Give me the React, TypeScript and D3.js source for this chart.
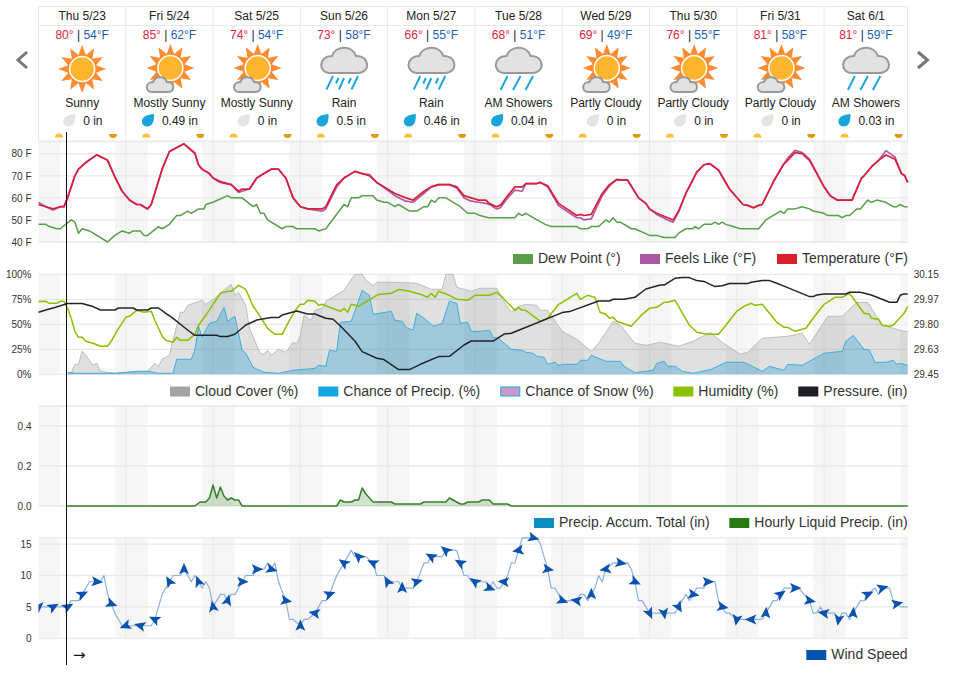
import React, { useEffect, useRef } from "react";
import * as d3 from "d3";

type Knot = [number, number];

// forecast cards
const dayLabels = ["Thu 5/23", "Fri 5/24", "Sat 5/25", "Sun 5/26", "Mon 5/27", "Tue 5/28", "Wed 5/29", "Thu 5/30", "Fri 5/31", "Sat 6/1"];
const highs = ["80°", "85°", "74°", "73°", "66°", "68°", "69°", "76°", "81°", "81°"];
const lows = ["54°F", "62°F", "54°F", "58°F", "55°F", "51°F", "49°F", "55°F", "58°F", "59°F"];
const conditions = ["Sunny", "Mostly Sunny", "Mostly Sunny", "Rain", "Rain", "AM Showers", "Partly Cloudy", "Partly Cloudy", "Partly Cloudy", "AM Showers"];
const icons = ["sun", "partly", "partly", "rain", "rain", "showers", "partly", "partly", "partly", "showers"];
const precipAmounts = ["0 in", "0.49 in", "0 in", "0.5 in", "0.46 in", "0.04 in", "0 in", "0 in", "0 in", "0.03 in"];

// hours since midnight Thu 5/23
const dayStarts = [0, 24, 48, 72, 96, 120, 144, 168, 192, 216];
const nightBands: Knot[] = [[0, 6], [21, 30], [45, 54], [69, 78], [93, 102], [117, 126], [141, 150], [165, 174], [189, 198], [213, 222], [237, 239]];
const lastHour = 239;

const tempHours = [0, 2, 4, 6, 7, 8, 10, 11, 13, 16, 19, 21, 23, 25, 27, 28, 30, 31, 34, 36, 40, 43, 44, 45, 47, 48, 50, 53, 55, 56, 58, 60, 62, 64, 66, 68, 70, 72, 74, 78, 79, 82, 84, 87, 89, 91, 93, 98, 101, 103, 106, 108, 110, 113, 115, 117, 119, 121, 123, 124, 126, 127, 129, 131, 133, 134, 137, 138, 140, 143, 148, 149, 150, 152, 155, 157, 159, 162, 165, 167, 168, 170, 173, 174.5, 176, 178, 181, 183, 184.6, 187, 190, 193.7, 195, 196.6, 198, 199, 202.3, 204.8, 206, 208, 210, 212, 216, 217.7, 219.6, 223.7, 226.3, 227, 229, 231, 233, 235.5, 237.3, 238.2, 239];
const temperature = [57, 56, 55, 56, 56, 60, 70, 73, 76, 79.5, 77, 69.5, 63, 59, 57, 57, 55, 57, 73, 81, 84.5, 80, 75, 73, 71, 69, 67, 66, 63, 64, 64, 69, 71, 73, 73, 69, 60, 56, 55, 55, 56, 66, 69, 72, 71, 70, 67, 62, 60, 59, 63, 65, 66, 66, 65, 61, 60, 59, 59, 57.4, 56, 56.7, 61, 65, 65, 66.5, 66.5, 67, 65.5, 57.5, 52, 52.5, 52, 52.5, 62, 66, 68.3, 68, 60, 57.5, 55, 53, 51, 50, 54, 62, 71.7, 75, 75.5, 72.5, 64, 57, 56.6, 55.5, 56.6, 57, 68, 75, 77, 80.5, 80, 77, 65, 61, 59, 59, 69, 70, 74, 77, 79.4, 77.5, 71, 70, 67];
const feelsLike = [58, 56, 54.5, 56, 56, 60, 70, 73, 76, 79.5, 77, 69.5, 63, 59, 57, 57, 55, 57, 73, 81, 84.5, 80.5, 75, 73, 71, 69, 67.5, 66, 62.5, 63, 64, 69, 71, 73, 73, 69, 60, 56, 55, 54, 55, 65, 69, 72, 71, 70.5, 67, 61, 58.5, 58, 62, 65, 66, 66, 64.5, 60, 58.5, 58, 57.5, 57, 55, 55.5, 60, 63.5, 63, 66.5, 66.5, 67, 65, 56.5, 51, 51, 50, 50.5, 61, 65.5, 68.3, 68, 60, 57.5, 55, 52.5, 50, 49, 53.5, 62, 71.7, 75, 75.5, 72.5, 64, 57, 56.6, 55.5, 56.6, 57, 68, 75, 78, 81.5, 80.5, 77.5, 65, 61, 59, 59, 69, 70, 74, 77, 81.4, 78.5, 71, 70, 67];
const dewPoint: Knot[] = [[0, 48], [2, 48], [3, 47], [5, 46], [6, 46], [9, 50], [10, 49], [11, 44], [12, 46], [14, 45], [19, 40], [21, 43], [23, 45], [25, 44], [26, 45], [28, 45], [29, 43], [30, 43], [33, 47], [34, 46], [36, 48], [38, 52], [39, 52], [41, 54], [42, 53], [44, 55], [45.5, 55], [46, 57], [48, 58], [52, 61], [53, 60], [56, 60], [59, 56], [60, 57], [61, 53], [62, 53], [63, 50], [67, 46], [68, 47], [70, 47], [71, 46], [76, 46], [77, 45], [79, 46], [84, 57], [85, 56], [86, 60], [88, 60], [89, 61], [92, 61], [93, 59], [95, 58], [96, 58], [98, 56], [99, 57], [102, 54], [104, 54], [106, 56], [107, 56], [108, 59], [109, 58], [110, 60], [112, 60], [116, 56], [118, 53], [120, 53], [121.4, 52], [123.7, 51], [131, 51], [132, 53], [133, 52], [134, 53], [139.3, 48], [141, 47], [148, 47], [149, 46], [151, 46], [152, 47], [154, 47], [156, 50], [157, 49], [158, 51], [159, 49], [160, 49], [163, 46], [164, 46], [168, 43], [170, 43], [172, 42], [175, 42], [176, 44], [178, 46], [180, 46], [180.5, 47], [181.5, 46], [183, 48], [185, 48], [186, 49], [187, 48], [188, 49], [189, 48], [191, 47], [193, 46], [198, 46], [200, 50], [203, 53], [204, 54], [205, 53], [206, 55], [208, 55], [210, 56], [212, 55], [213, 54], [216, 53], [217, 52], [220, 52], [221, 51], [222, 52], [223, 52], [225, 55], [226, 55], [228, 59], [229, 58], [230.5, 59], [233, 58], [235, 56], [236, 56], [237, 57], [238, 56], [239, 56]];

const cloudCover: Knot[] = [[8, 0], [9, 1], [10, 10], [11, 10], [12, 23], [13, 19], [15, 9], [16, 11], [17, 3], [19, 2], [21, 1], [30, 3], [32, 11], [33, 8], [34, 15], [36, 19], [37, 34], [39, 62], [40, 62], [41, 69], [43.5, 72], [45, 74], [46, 70], [48.5, 76], [50, 81], [53, 90], [54, 79], [55, 82], [57, 69], [58, 46], [60, 29], [61, 21], [62, 20], [63, 24], [64, 19], [66, 25], [68, 22], [70, 32], [71, 30], [72, 39], [73, 59], [75, 54], [76, 64], [78, 66], [79, 73], [84, 84], [87, 100], [89, 100], [90, 94], [92, 89], [93, 92], [98, 92], [104, 91], [108, 85], [111, 85], [112, 100], [114, 100], [115, 87], [119, 83], [121.4, 86], [126, 86], [127.4, 76], [130, 62], [132, 68], [134, 70], [137, 69], [138, 64], [140, 64], [144, 43], [148, 35], [152, 23], [154, 31], [158, 53], [160, 49], [164, 31], [167, 29], [171, 32], [176, 28], [180, 33], [184.7, 42], [188, 32], [193, 20], [195, 22], [199, 36], [206, 38], [210, 41], [212, 30], [217, 58], [221, 58], [225, 72], [228, 72], [232, 49], [235, 46], [238, 43], [239, 43]];
const precipChance: Knot[] = [[8, 2], [10, 1], [21, 1], [24, 2], [27, 3], [30, 3], [33, 1], [37, 1], [38, 15], [42, 15], [43, 24], [44, 48], [45, 37], [47, 51], [49, 53], [51, 67], [52, 53], [54, 58], [56, 24], [57, 21], [59, 7], [62, 2], [66, 1], [70, 4], [76, 6], [77, 9], [79, 8], [80, 24], [82, 23], [83, 52], [86, 53], [89, 84], [91, 79], [92, 60], [97, 63], [98, 54], [100, 53], [101, 47], [103, 44], [104, 61], [106, 56], [108.6, 48], [111, 51], [113, 73], [115, 71], [116, 51], [118, 52], [119, 43], [121.4, 43], [124, 44], [125, 37], [126.5, 36], [130, 25], [133, 24], [134, 22], [136, 21], [137, 18], [139, 17], [140, 10], [142, 12], [143, 9], [144.4, 10], [148, 10], [149, 14], [151, 14], [152, 19], [156, 13], [160, 13], [161, 8], [164, 1.5], [167, 3], [169, 4], [170, 11], [172, 13], [173, 8], [175, 8], [177, 3], [180, 1], [185, 5], [189, 12], [194, 12], [199, 3], [201, 8], [205, 4], [206, 10], [210, 9], [216, 21], [221, 23], [222, 33], [224, 39], [227, 25], [228.5, 24], [230, 12], [233, 12], [235, 14], [236, 10], [237, 11], [239, 9]];
const humidity: Knot[] = [[0, 72.7], [2, 73], [3, 71], [5, 71], [6, 73], [7, 73], [8, 66], [9, 56], [10, 43], [11, 37], [12, 37], [13, 33], [15, 31], [17, 28], [19, 28], [20, 33], [21.5, 43], [24, 57], [25, 58], [27, 64], [29, 62], [31, 63], [32, 54], [34, 38], [35, 34], [37, 32], [38, 37], [39, 34], [41, 34], [43, 40], [44, 49], [46, 59], [48, 70], [50, 81], [52, 83], [53, 83], [55, 89], [57, 85], [59, 68], [60, 63], [63, 46], [65, 40], [67, 40], [69, 54], [71, 66], [72, 70], [73, 70], [74, 74], [76, 73], [77, 69], [78, 70], [80, 67], [83, 63], [84, 66], [85, 62], [86, 70], [88, 68], [93, 79], [94, 80], [97, 81], [99, 85], [102, 83], [105, 80], [107, 77], [108, 81], [109, 77], [110, 83], [113, 79], [115, 75], [118, 74], [120, 79], [121.4, 79], [124, 79], [126, 82], [127, 79], [131, 64], [132, 67], [133, 64], [134, 64], [138, 53], [140, 56], [143, 70], [144, 72], [148, 81], [149, 75], [151, 79], [153, 77], [154.4, 62], [156, 60], [157, 56], [158, 57], [159, 53], [163, 48], [166, 60], [168, 66], [170, 67], [172, 72], [173, 72], [175, 74], [176, 68], [179, 49], [181, 42], [184, 40], [187, 40], [189, 49], [192, 63], [194, 68], [196, 71], [197, 69], [199, 70], [203, 52], [205, 47], [206, 47], [208, 43], [211, 46], [213, 56], [216, 70], [219, 77], [221, 77], [223, 81], [225, 71], [227, 61], [228.5, 60], [229, 56], [231, 55], [232, 49], [234, 48], [235, 49], [238, 61], [239, 68]];
const pressure: Knot[] = [[0, 29.884], [2, 29.9], [4.5, 29.917], [8, 29.945], [12, 29.945], [15, 29.924], [17, 29.9], [21, 29.9], [22, 29.914], [26, 29.914], [27, 29.9], [30, 29.9], [31, 29.914], [33, 29.914], [35, 29.877], [37, 29.842], [41, 29.76], [43, 29.723], [49, 29.723], [50, 29.714], [52, 29.714], [54, 29.73], [57, 29.795], [60, 29.83], [64, 29.847], [66, 29.847], [67, 29.865], [71, 29.893], [74, 29.872], [76, 29.872], [79, 29.842], [81, 29.835], [83, 29.788], [87, 29.683], [89, 29.609], [93, 29.562], [95, 29.553], [99, 29.483], [102, 29.483], [105, 29.52], [110, 29.574], [113, 29.576], [117, 29.655], [119, 29.683], [125, 29.683], [128, 29.732], [130, 29.737], [144, 29.882], [146, 29.889], [154, 29.963], [157, 29.963], [158, 29.975], [161, 29.975], [164, 29.989], [167, 30.047], [171, 30.075], [172, 30.075], [175, 30.122], [177, 30.127], [179, 30.127], [181, 30.106], [183, 30.1], [186, 30.064], [188, 30.07], [190, 30.085], [195, 30.085], [196, 30.094], [199, 30.106], [201, 30.106], [203, 30.087], [206, 30.057], [212, 29.994], [213, 29.994], [214, 30.005], [216, 30.012], [222, 30.012], [223, 30.024], [226, 30.024], [229, 30.005], [234, 29.954], [236, 29.954], [237, 30.005], [238, 30.012], [239, 30.012]];
const pressureTicks = [29.45, 29.625, 29.8, 29.975, 30.15];
const pressureLabels = ["29.45", "29.63", "29.80", "29.97", "30.15"];

const hourlyPrecip: Knot[] = [[7.7, 0], [43, 0], [44.4, 0.02], [46, 0.02], [47, 0.04], [48, 0.105], [49, 0.04], [50, 0.095], [51, 0.05], [52, 0.03], [53, 0.04], [54, 0.03], [55, 0.03], [56, 0], [82, 0], [83, 0.03], [84, 0.02], [86, 0.02], [87, 0.03], [88, 0.03], [89, 0.09], [90, 0.06], [92, 0.02], [97, 0.02], [98, 0.01], [105, 0.01], [106, 0.02], [112, 0.02], [113, 0.04], [116, 0.01], [117, 0.01], [118, 0.02], [121, 0.02], [122, 0.03], [124, 0.03], [125, 0.01], [129, 0.01], [130, 0], [239, 0]];

const windSpeed: Knot[] = [[0, 5], [8, 5], [9, 6], [11, 6], [12, 7], [14, 9], [17, 9], [18, 10], [19, 7], [21, 4], [23, 2], [31, 2], [32, 3], [34, 7], [36, 9], [37, 10], [39, 10], [40, 11], [42, 9], [43, 10], [45, 8], [46, 9], [47, 8], [48, 5], [50, 7], [51, 7], [52, 6], [53, 7], [54, 7], [56, 9], [57, 10], [59, 10], [60, 11], [62, 11], [63, 12], [64, 11], [65, 12], [66, 9], [68, 6], [69, 3], [70, 3], [72, 2], [73, 3], [74, 3], [76, 4], [78, 6], [79, 6], [80, 7], [82, 10], [84, 12], [86, 14], [87, 13], [90, 13], [92, 12], [93, 10], [95, 10], [96, 9], [99, 9], [100, 8], [103, 8], [104, 9], [106, 12], [107, 12], [108, 13], [111, 13], [112, 14], [115, 14], [117, 10], [118, 10], [119, 9], [123, 9], [124, 8], [125, 9], [126, 8], [127, 8], [128, 9], [129, 10], [130, 12], [131, 12], [132, 14], [133, 16], [137, 16], [138, 15], [139, 13], [140, 11], [141, 8], [142, 8], [144, 6], [148, 6], [149, 7], [150, 7], [151, 6], [152, 7], [153, 8], [154, 10], [155, 9], [156, 11], [158, 12], [162, 12], [163, 11], [164, 9], [165, 6], [166, 6], [168, 4], [175, 4], [178, 7], [179, 6], [180, 7], [181, 8], [183, 8], [184, 9], [186, 9], [187, 6], [189, 4], [190, 4], [192, 3], [199, 3], [200, 4], [202, 6], [203, 6], [205, 8], [209, 8], [212, 6], [213, 4], [214, 4], [215, 5], [216, 4], [219, 4], [220, 3], [221, 4], [222, 4], [223, 3], [224, 4], [226, 6], [227, 6], [228, 7], [230, 8], [231, 7], [232, 8], [234, 8], [235, 6], [237, 5], [239, 5]];
// one barb every 4 hours, heading in degrees clockwise from east
const windBarbHours = [0, 4, 8, 12, 16, 20, 24, 28, 32, 36, 40, 44, 48, 52, 56, 60, 64, 68, 72, 76, 80, 84, 88, 92, 96, 100, 104, 108, 112, 116, 120, 124, 128, 132, 136, 140, 144, 148, 152, 156, 160, 164, 168, 172, 176, 180, 184, 188, 192, 196, 200, 204, 208, 212, 216, 220, 224, 228, 232, 236];
const windBarbHeadings = [90, -30, -30, -25, 5, 20, 160, 195, 205, 240, 270, 250, 260, 285, 0, 0, 15, 10, 270, 190, -20, 215, 225, 205, 240, 270, -15, 210, 220, 210, 215, 20, 185, 170, 15, 10, 20, 190, 270, 170, 10, 25, 65, 80, 60, 10, 0, 10, 100, 180, 275, -35, 0, 10, 190, 100, 275, -25, -15, 350];

const FONT = "'Liberation Sans', Arial, sans-serif";
const TEXT = "#333";
const GRID = "#e9e9e9";
const NIGHT = "#f6f6f6";

const WeatherChart = () => {
    const svgRef = useRef<SVGSVGElement>(null);

    useEffect(() => {
        const svg = d3.select(svgRef.current).attr("viewBox", "0 0 954 677");
        svg.selectAll("*").remove();
        svg.attr("font-family", FONT);

        const xScale = d3.scaleLinear().domain([0, lastHour]).range([38.5, 907.7]);
        const cellEdges = [...dayStarts.map((d) => xScale(d)), xScale(lastHour)];

        const cloudPath = "M-14,12 C-26,12 -26,-5 -12,-5 C-9,-15 8,-17 12,-5 C26,-6 27,12 14,12 Z";
        const dropPath = "M6,-6.5 C6.5,2 4,6 -1,6 C-4,6 -6,3.5 -6,1 C-6,-4 0,-6 6,-6.5 Z";
        const barbPath = "M6.5,0 L-5,-5 L-2.5,0 L-5,5 Z";

        const drawCloud = (g: any, x: number, y: number, s: number) => {
            g.append("path")
                .attr("d", cloudPath)
                .attr("transform", `translate(${x},${y}) scale(${s})`)
                .attr("fill", "#e2e2e2")
                .attr("stroke", "#999")
                .attr("stroke-width", 2 / s);
        };

        const drawSun = (g: any, x: number, y: number) => {
            // twelve pointed star behind the disc
            const star = d3
                .lineRadial<number>()
                .angle((i) => (i * Math.PI) / 12)
                .radius((i) => (i % 2 === 0 ? 24 : 14.5))
                .curve(d3.curveLinearClosed);
            g.append("path")
                .attr("d", star(d3.range(24)))
                .attr("transform", `translate(${x},${y})`)
                .attr("fill", "#ff8c33");
            g.append("circle")
                .attr("cx", x)
                .attr("cy", y)
                .attr("r", 12.5)
                .attr("fill", "#ffb62e")
                .attr("stroke", "#fff")
                .attr("stroke-width", 1.5);
        };

        const drawRain = (g: any, cx: number, lines: number[][]) => {
            lines.forEach((l) => {
                g.append("line")
                    .attr("x1", cx + l[0])
                    .attr("y1", l[1])
                    .attr("x2", cx + l[2])
                    .attr("y2", l[3])
                    .attr("stroke", "#1ba7dc")
                    .attr("stroke-width", 2);
            });
        };

        // Forecast cards
        const cards = svg.append("g");
        cards.append("rect")
            .attr("x", 38.5)
            .attr("y", 6.5)
            .attr("width", 869)
            .attr("height", 134.5)
            .attr("fill", "none")
            .attr("stroke", GRID);
        cards.append("line")
            .attr("x1", 38.5)
            .attr("x2", 907.5)
            .attr("y1", 25.5)
            .attr("y2", 25.5)
            .attr("stroke", GRID);

        dayLabels.forEach((label, i) => {
            const left = cellEdges[i];
            const right = cellEdges[i + 1];
            const cx = (left + right) / 2;
            if (i > 0) {
                cards.append("line")
                    .attr("x1", left)
                    .attr("x2", left)
                    .attr("y1", 6.5)
                    .attr("y2", 141)
                    .attr("stroke", GRID);
            }
            cards.append("text")
                .attr("x", cx)
                .attr("y", 20)
                .attr("text-anchor", "middle")
                .attr("font-size", 12)
                .attr("fill", "#222")
                .text(label);
            const hiLo = cards.append("text")
                .attr("x", cx)
                .attr("y", 39)
                .attr("text-anchor", "middle")
                .attr("font-size", 12)
                .attr("xml:space", "preserve")
                .style("white-space", "pre");
            hiLo.append("tspan").attr("fill", "#e0243c").text(highs[i]);
            hiLo.append("tspan").attr("fill", "#223").text(" | ");
            hiLo.append("tspan").attr("fill", "#1b62b8").text(lows[i]);

            if (icons[i] === "sun") {
                drawSun(cards, cx, 69);
            } else if (icons[i] === "partly") {
                drawSun(cards, cx + 1, 68);
                drawCloud(cards, cx - 9.5, 85, 0.58);
            } else {
                drawCloud(cards, cx, 61, 1);
                if (icons[i] === "rain") {
                    drawRain(cards, cx, [[-11, 76, -17.5, 89.5], [-5.5, 78, -8, 83.5], [0, 78, -5, 89.5], [7, 78, 4.5, 83.5], [14, 76, 7.5, 89.5]]);
                } else {
                    drawRain(cards, cx, [[-11, 76, -18, 90], [2, 76, -5.5, 90], [14.5, 76, 7, 90]]);
                }
            }

            cards.append("text")
                .attr("x", cx)
                .attr("y", 107)
                .attr("text-anchor", "middle")
                .attr("font-size", 12)
                .attr("fill", "#222")
                .text(conditions[i]);

            const wet = precipAmounts[i] !== "0 in";
            const rowWidth = wet ? (precipAmounts[i].length > 5 ? 55 : 48) : 40;
            const rowLeft = cx - rowWidth / 2 + (wet ? 0 : 1);
            cards.append("path")
                .attr("d", dropPath)
                .attr("transform", `translate(${rowLeft + 6},${120.5})`)
                .attr("fill", wet ? "#19a5dc" : "#e4e4e4");
            cards.append("text")
                .attr("x", rowLeft + 20)
                .attr("y", 125)
                .attr("font-size", 12)
                .attr("fill", "#222")
                .text(precipAmounts[i]);

            // sunrise and sunset markers
            cards.append("path")
                .attr("d", d3.arc()({ innerRadius: 0, outerRadius: 4, startAngle: -Math.PI / 2, endAngle: Math.PI / 2 } as any))
                .attr("transform", `translate(${left + 20.5},${137.5})`)
                .attr("fill", "#ffbe3c");
            cards.append("path")
                .attr("d", d3.arc()({ innerRadius: 0, outerRadius: 4, startAngle: Math.PI / 2, endAngle: (3 * Math.PI) / 2 } as any))
                .attr("transform", `translate(${left + 74.5},${134})`)
                .attr("fill", "#e09b10");
        });

        // Arrows on either side of the cards
        [[27, 18], [918, 927.5]].forEach(([a, b]) => {
            svg.append("path")
                .attr("d", `M${a},52 L${b},60 L${a},68`)
                .attr("fill", "none")
                .attr("stroke", "#777")
                .attr("stroke-width", 3);
        });

        const drawFrame = (y0: number, y1: number, gridYs: number[]) => {
            const g = svg.append("g");
            g.selectAll("rect.night")
                .data(nightBands)
                .enter()
                .append("rect")
                .attr("class", "night")
                .attr("x", (d) => xScale(d[0]))
                .attr("width", (d) => xScale(d[1]) - xScale(d[0]))
                .attr("y", y0)
                .attr("height", y1 - y0)
                .attr("fill", NIGHT);
            g.selectAll("line.grid")
                .data(gridYs)
                .enter()
                .append("line")
                .attr("x1", 38.5)
                .attr("x2", 907.7)
                .attr("y1", (d) => d)
                .attr("y2", (d) => d)
                .attr("stroke", GRID)
                .attr("stroke-width", 1.3);
            g.selectAll("line.day")
                .data(dayStarts.slice(1))
                .enter()
                .append("line")
                .attr("x1", (d) => xScale(d))
                .attr("x2", (d) => xScale(d))
                .attr("y1", y0)
                .attr("y2", y1)
                .attr("stroke", GRID);
            return g;
        };

        const drawAxis = (axis: any, x: number) => {
            const g = svg.append("g").attr("transform", `translate(${x},0)`).call(axis);
            g.select(".domain").remove();
            g.attr("font-family", FONT).attr("font-size", 10);
            g.selectAll("text").attr("fill", TEXT);
        };

        const legendItem = (x0: number, y: number, label: string, fill: string, stroke?: string) => {
            svg.append("rect")
                .attr("x", x0 + (stroke ? 0.5 : 0))
                .attr("y", y - 9 + (stroke ? 0.5 : 0))
                .attr("width", stroke ? 19 : 20)
                .attr("height", stroke ? 9 : 10)
                .attr("fill", fill)
                .attr("stroke", stroke || "none");
            svg.append("text")
                .attr("x", x0 + 25)
                .attr("y", y)
                .attr("font-size", 14)
                .attr("fill", TEXT)
                .text(label);
        };

        const lineOf = (y: any) =>
            d3.line<Knot>()
                .x((d) => xScale(d[0]))
                .y((d) => y(d[1]));
        const areaOf = (y: any, base: number) =>
            d3.area<Knot>()
                .x((d) => xScale(d[0]))
                .y0(base)
                .y1((d) => y(d[1]));
        const drawLine = (d: Knot[], y: any, color: string, width: number) => {
            svg.append("path")
                .datum(d)
                .attr("fill", "none")
                .attr("stroke", color)
                .attr("stroke-width", width)
                .attr("stroke-linejoin", "round")
                .attr("d", lineOf(y));
        };

        // Temperature panel
        const tempY = d3.scaleLinear().domain([40, 85.5]).range([242, 141.6]);
        const tempTicks = [40, 50, 60, 70, 80];
        drawFrame(141.6, 242, [141.6, ...tempTicks.map(tempY)]);
        drawAxis(d3.axisLeft(tempY).tickValues(tempTicks).tickSize(0).tickPadding(7).tickFormat((d) => `${d} F`), 38.5);
        drawLine(dewPoint, tempY, "#5a9e4b", 1.5);
        drawLine(tempHours.map((h, i) => [h, feelsLike[i]] as Knot), tempY, "#b05aa6", 1.7);
        drawLine(tempHours.map((h, i) => [h, temperature[i]] as Knot), tempY, "#d9203a", 1.7);
        legendItem(513, 263, "Dew Point (°)", "#5a9e4b");
        legendItem(640, 263, "Feels Like (°F)", "#ab57a0");
        legendItem(777, 263, "Temperature (°F)", "#d9202c");

        // Cloud, precip, humidity and pressure panel
        const pctY = d3.scaleLinear().domain([0, 100]).range([374.3, 274.3]);
        const pressY = d3.scaleLinear().domain([29.45, 30.15]).range([374.3, 274.3]);
        const pctTicks = [0, 25, 50, 75, 100];
        drawFrame(274.3, 374.3, pctTicks.map(pctY));
        drawAxis(d3.axisLeft(pctY).tickValues(pctTicks).tickSize(0).tickPadding(7).tickFormat((d) => `${d}%`), 38.5);
        drawAxis(d3.axisRight(pressY).tickValues(pressureTicks).tickSize(0).tickPadding(6).tickFormat((_, i) => pressureLabels[i]), 907.7);
        svg.append("path").datum(cloudCover).attr("fill", "#000").attr("fill-opacity", 0.12).attr("d", areaOf(pctY, 374.3));
        drawLine(cloudCover, pctY, "#bdbdbd", 1);
        svg.append("path").datum(precipChance).attr("fill", "#1a9ad0").attr("fill-opacity", 0.32).attr("d", areaOf(pctY, 374.3));
        drawLine(precipChance, pctY, "#3bb0de", 1);
        drawLine(humidity, pctY, "#8ac100", 1.5);
        drawLine(pressure, pressY, "#23232b", 1.5);
        legendItem(170, 395.5, "Cloud Cover (%)", "#a2a2a2");
        legendItem(318.3, 395.5, "Chance of Precip. (%)", "#12a7df");
        legendItem(500.3, 395.5, "Chance of Snow (%)", "#cc99cc", "#1fa8dc");
        legendItem(673.3, 395.5, "Humidity (%)", "#8ac100");
        legendItem(798.3, 395.5, "Pressure. (in)", "#1f2024");

        // Precipitation panel
        const rainY = d3.scaleLinear().domain([0, 0.5]).range([506, 406]);
        const rainTicks = [0, 0.2, 0.4];
        drawFrame(406, 506, [406, ...rainTicks.map(rainY)]);
        drawAxis(d3.axisLeft(rainY).tickValues(rainTicks).tickSize(0).tickPadding(7).tickFormat(d3.format(".1f") as any), 38.5);
        svg.append("path").datum(hourlyPrecip).attr("fill", "#2e7d1c").attr("fill-opacity", 0.22).attr("d", areaOf(rainY, 506));
        drawLine(hourlyPrecip, rainY, "#3a7f2c", 1.5);
        legendItem(534, 527, "Precip. Accum. Total (in)", "#0e8fc4");
        legendItem(729.3, 527, "Hourly Liquid Precip. (in)", "#2a7a12");

        // Wind panel
        const windY = d3.scaleLinear().domain([0, 16]).range([638.3, 537.8]);
        const windTicks = [0, 5, 10, 15];
        drawFrame(537.8, 638.3, [537.8, ...windTicks.map(windY)]);
        drawAxis(d3.axisLeft(windY).tickValues(windTicks).tickSize(0).tickPadding(7), 38.5);
        drawLine(windSpeed, windY, "#8cb1e0", 1.2);
        const windAt = d3.scaleLinear().domain(windSpeed.map((d) => d[0])).range(windSpeed.map((d) => d[1]));
        svg.append("clipPath").attr("id", "windClip").append("rect").attr("x", 38.5).attr("y", 520).attr("width", 880).attr("height", 130);
        svg.append("g")
            .attr("clip-path", "url(#windClip)")
            .selectAll("path")
            .data(windBarbHours)
            .enter()
            .append("path")
            .attr("d", barbPath)
            .attr("fill", "#0a52ad")
            .attr("transform", (h, i) => `translate(${xScale(h)},${windY(windAt(h))}) rotate(${windBarbHeadings[i]})`);
        legendItem(806.3, 659, "Wind Speed", "#0454ae");

        // Crosshair
        svg.append("line")
            .attr("x1", 66.5)
            .attr("x2", 66.5)
            .attr("y1", 132)
            .attr("y2", 665)
            .attr("stroke", "#111")
            .attr("stroke-width", 1);
        svg.append("text")
            .attr("x", 73)
            .attr("y", 660)
            .attr("font-family", "'DejaVu Sans', sans-serif")
            .attr("font-size", 15)
            .attr("fill", "#111")
            .text("→");
    }, []);

    return <svg ref={svgRef} width={954} height={677} style={{ position: "absolute", left: 0, top: 0, display: "block" }}></svg>;
};

export default function App() {
    return <WeatherChart />;
}
